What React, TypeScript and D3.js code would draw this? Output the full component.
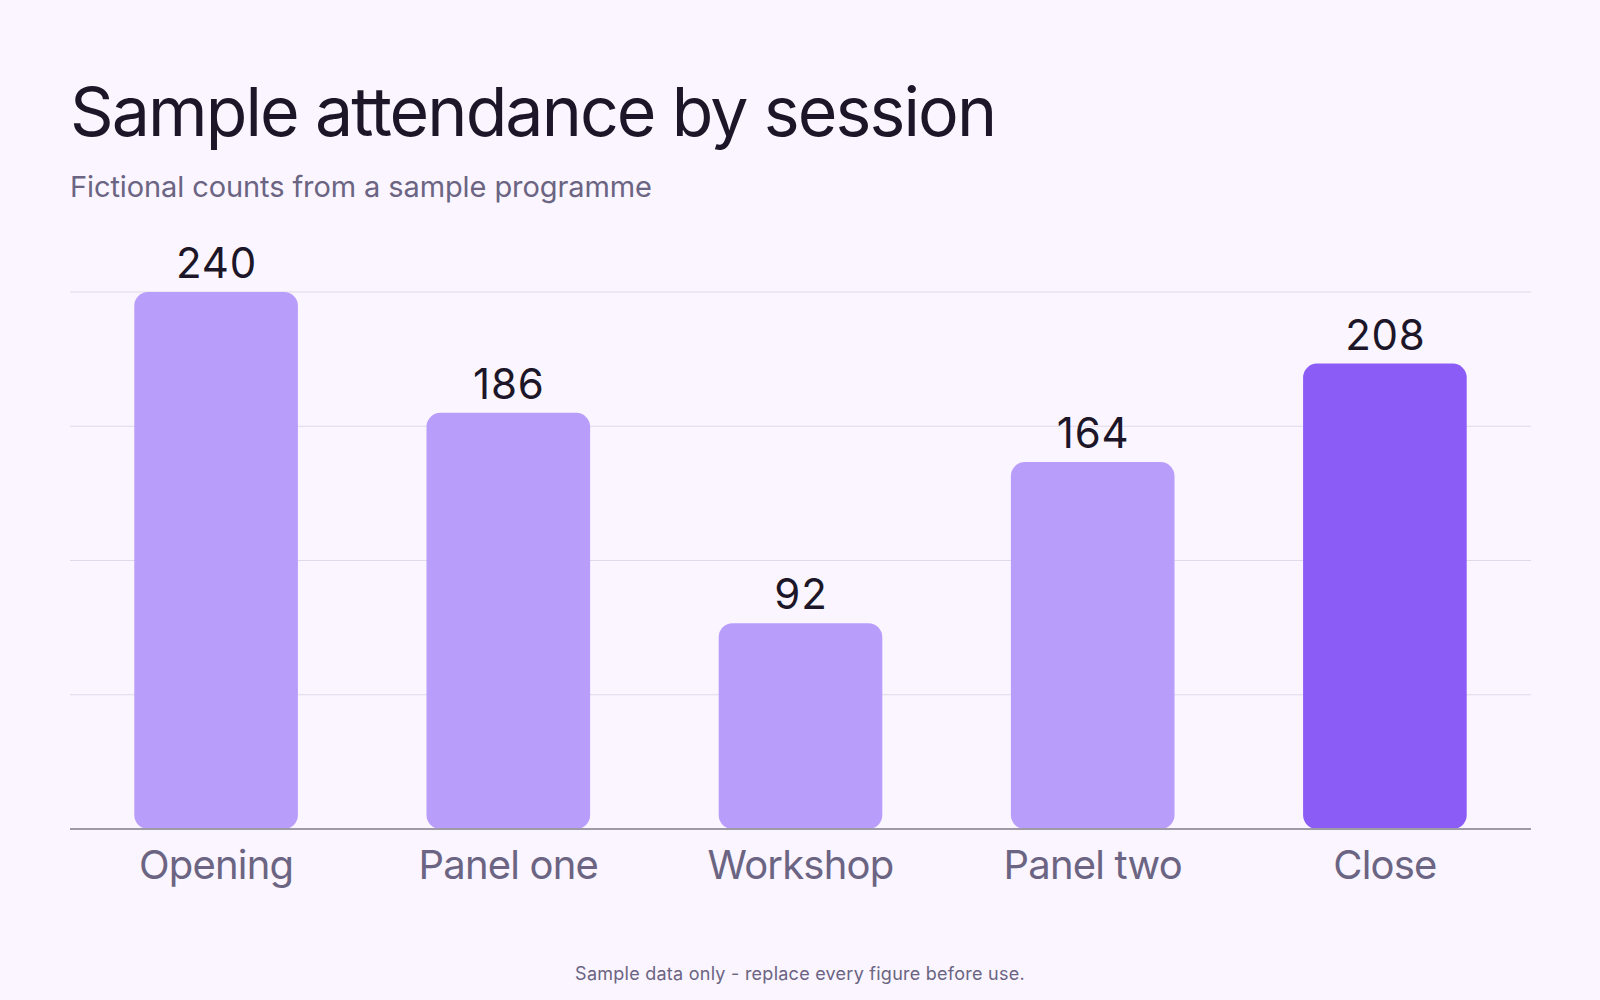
import { useEffect } from "react";
import * as d3 from "d3";

const sessions = ["Opening", "Panel one", "Workshop", "Panel two", "Close"];
const attendance = [240, 186, 92, 164, 208];
const highlighted = "Close";
const yTicks = [0, 60, 120, 180, 240];

const W = 1600;
const H = 1000;
const margin = { top: 292, right: 69, bottom: 171, left: 70 };

const FONT = "Inter, 'Noto Sans', sans-serif";
const INK = "#1c1628";
const MUTED = "#6b6482";

export default function App() {
  useEffect(() => {
    document.body.style.margin = "0";
    document.body.style.background = "#faf5ff";
  }, []);

  const x = d3
    .scaleBand<string>()
    .domain(sessions)
    .range([margin.left, W - margin.right])
    .paddingInner(0.44)
    .paddingOuter(0.22);

  const y = d3
    .scaleLinear()
    .domain([0, 240])
    .range([H - margin.bottom, margin.top]);

  const base = y(0);

  return (
    <svg width={W} height={H} style={{ display: "block", background: "#faf5ff" }} fontFamily={FONT}>
      <text x={70} y={136} fontSize={68} fill={INK} letterSpacing={-1.9}>
        Sample attendance by session
      </text>
      <text x={70} y={197} fontSize={29} fill={MUTED} letterSpacing={-0.1}>
        Fictional counts from a sample programme
      </text>

      {yTicks.slice(1).map((t) => (
        <line
          key={t}
          x1={margin.left} x2={W - margin.right}
          y1={y(t)} y2={y(t)}
          stroke="#e0d9e9" strokeWidth={1.2}
        />
      ))}

      {sessions.map((s, i) => {
        const v = attendance[i];
        const bx = x(s) ?? 0;
        const by = y(v);
        const cx = bx + x.bandwidth() / 2;
        return (
          <g key={s}>
            <rect
              x={bx} y={by}
              width={x.bandwidth()} height={base - by}
              rx={14} ry={14}
              fill={s === highlighted ? "#8b5cf6" : "#b99dfb"}
            />
            <text x={cx + 0.5} y={by - 14} textAnchor="middle" fontSize={42} fill={INK} letterSpacing={0.8}>
              {v}
            </text>
            <text x={cx} y={base + 50} textAnchor="middle" fontSize={40} fill={MUTED} letterSpacing={-0.8}>
              {s}
            </text>
          </g>
        );
      })}

      <line x1={margin.left} x2={W - margin.right} y1={base} y2={base} stroke="#9f9aa8" strokeWidth={2} />

      <text x={W / 2} y={980} textAnchor="middle" fontSize={18} fill={MUTED} letterSpacing={0.25}>
        Sample data only - replace every figure before use.
      </text>
    </svg>
  );
}
